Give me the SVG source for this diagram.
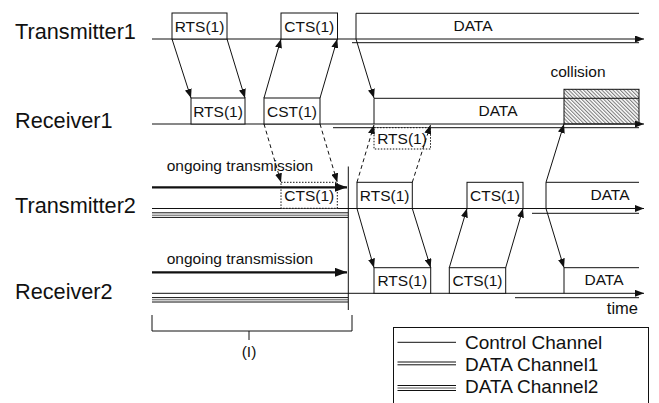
<svg xmlns="http://www.w3.org/2000/svg" width="659" height="403" viewBox="0 0 659 403">
<style>
.lbl{font-family:"Liberation Sans",Arial,sans-serif;font-size:21.7px;fill:#111}
.t{font-family:"Liberation Sans",Arial,sans-serif;font-size:15.5px;fill:#111;text-anchor:middle}
.lg{font-family:"Liberation Sans",Arial,sans-serif;font-size:19px;fill:#111}
.box{fill:#fff;stroke:#111;stroke-width:1}
.dot{fill:#fff;stroke:#111;stroke-width:1;stroke-dasharray:1.5,1.5}
.ln{stroke:#111;stroke-width:1;fill:none}
.gl{stroke:#555;stroke-width:1;fill:none}
.ar{stroke:#111;stroke-width:1;fill:none;marker-end:url(#ah)}
.da{stroke:#111;stroke-width:1;fill:none;stroke-dasharray:4,3;marker-end:url(#ah)}
.th{stroke:#111;stroke-width:2.2;fill:none;marker-end:url(#big)}
</style>
<defs>
<marker id="ah" markerUnits="userSpaceOnUse" markerWidth="9" markerHeight="7" refX="9" refY="3.5" orient="auto"><path d="M0,0 L9,3.5 L0,7 z" fill="#111"/></marker>
<marker id="big" markerUnits="userSpaceOnUse" markerWidth="12" markerHeight="9" refX="12" refY="4.5" orient="auto"><path d="M0,0 L12,4.5 L0,9 z" fill="#111"/></marker>
<pattern id="hatch" width="2.6" height="2.6" patternUnits="userSpaceOnUse" patternTransform="rotate(-45)"><line x1="0.6" y1="0" x2="0.6" y2="2.6" stroke="#333" stroke-width="0.7"/></pattern>
</defs>

<g id="labels">
<text class="lbl" x="15" y="39">Transmitter1</text>
<text class="lbl" x="15" y="128">Receiver1</text>
<text class="lbl" x="15" y="213">Transmitter2</text>
<text class="lbl" x="15" y="299">Receiver2</text>
</g>

<g id="timelines">
<line class="ln" x1="152" y1="39" x2="644" y2="39" marker-end="url(#ah)"/>
<line class="ln" x1="352" y1="42.7" x2="639" y2="42.7" stroke-width="1.3"/>
<line class="ln" x1="152" y1="124" x2="644" y2="124" marker-end="url(#ah)"/>
<line class="ln" x1="333" y1="127.7" x2="639" y2="127.7" stroke-width="1.3"/>
<line class="ln" x1="152" y1="208.5" x2="644" y2="208.5" marker-end="url(#ah)"/>
<line class="ln" x1="532" y1="213.3" x2="639" y2="213.3" stroke-width="1.6"/>
<line class="ln" x1="152" y1="212.8" x2="348" y2="212.8"/>
<line class="gl" x1="152" y1="215.2" x2="348" y2="215.2"/>
<line class="ln" x1="152" y1="217.4" x2="348" y2="217.4"/>
<line class="ln" x1="152" y1="293.3" x2="644" y2="293.3" marker-end="url(#ah)"/>
<line class="ln" x1="515" y1="297.7" x2="639" y2="297.7" stroke-width="1.3"/>
<line class="ln" x1="152" y1="297.6" x2="348" y2="297.6"/>
<line class="gl" x1="152" y1="299.8" x2="348" y2="299.8"/>
<line class="ln" x1="152" y1="302" x2="348" y2="302"/>
<line class="ln" x1="348.3" y1="166.5" x2="348.3" y2="310"/>
</g>

<g id="t1-rts"><rect class="box" x="172" y="13" width="55" height="26"/><text class="t" x="199.5" y="31.5">RTS(1)</text></g>
<g id="t1-cts"><rect class="box" x="281" y="13" width="56.5" height="26"/><text class="t" x="309.2" y="31.5">CTS(1)</text></g>
<g id="t1-data"><path class="ln" d="M356,39 V13.3 H639"/><text class="t" x="473" y="31">DATA</text></g>

<g id="r1-rts"><rect class="box" x="191" y="98" width="54" height="26"/><text class="t" x="218" y="116.5">RTS(1)</text></g>
<g id="r1-cst"><rect class="box" x="264" y="98" width="56" height="26"/><text class="t" x="292" y="116.5">CST(1)</text></g>
<g id="r1-data"><path class="ln" d="M374,124 V98.3 H564"/><text class="t" x="498" y="116">DATA</text></g>
<g id="r1-collision"><rect x="564" y="89.3" width="75" height="34.7" fill="url(#hatch)" stroke="#111" stroke-width="1"/><line class="ln" x1="564" y1="98.3" x2="639" y2="98.3"/><text class="t" x="578" y="77">collision</text></g>
<g id="r1-rts-dotted"><rect class="dot" x="374" y="127.7" width="56.5" height="21.3"/><text class="t" x="402" y="143.5">RTS(1)</text></g>

<g id="t2-ongoing"><text class="t" x="240" y="171">ongoing transmission</text></g>
<g id="t2-cts-dotted"><rect class="dot" x="281" y="182.3" width="56.3" height="26"/><text class="t" x="309.2" y="201">CTS(1)</text></g>
<g id="t2-rts"><rect class="box" x="357" y="182.3" width="55.3" height="26.2"/><text class="t" x="384.6" y="201">RTS(1)</text></g>
<g id="t2-cts"><rect class="box" x="467" y="182.3" width="56" height="26.2"/><text class="t" x="495" y="201">CTS(1)</text></g>
<g id="t2-data"><path class="ln" d="M546,208.5 V182.3 H639"/><text class="t" x="610" y="200">DATA</text></g>

<g id="r2-ongoing"><text class="t" x="240" y="264">ongoing transmission</text></g>
<g id="r2-rts"><rect class="box" x="374" y="267.7" width="56.7" height="25.6"/><text class="t" x="402.3" y="286">RTS(1)</text></g>
<g id="r2-cts"><rect class="box" x="449.3" y="267.7" width="56.4" height="25.6"/><text class="t" x="477.5" y="286">CTS(1)</text></g>
<g id="r2-data"><path class="ln" d="M564,293.3 V267.7 H639"/><text class="t" x="604" y="285">DATA</text></g>
<g id="time"><text class="t" x="638" y="314" style="text-anchor:end;font-size:16.5px">time</text></g>

<g id="connectors">
<line class="th" x1="152" y1="187.3" x2="347" y2="187.3"/>
<line class="th" x1="152" y1="272.3" x2="347" y2="272.3"/>
<line class="ar" x1="172" y1="39" x2="191" y2="98"/>
<line class="ar" x1="227" y1="39" x2="245" y2="98"/>
<line class="ar" x1="264" y1="98" x2="281" y2="39"/>
<line class="ar" x1="320" y1="98" x2="337.3" y2="39"/>
<line class="ar" x1="356" y1="39" x2="374" y2="98"/>
<line class="da" x1="264" y1="124" x2="281" y2="182.3"/>
<line class="da" x1="320" y1="124" x2="337.3" y2="182.3"/>
<line class="da" x1="357" y1="182.3" x2="374" y2="125"/>
<line class="da" x1="412.3" y1="182.3" x2="430.5" y2="125"/>
<line class="ar" x1="546" y1="182.3" x2="564" y2="124"/>
<line class="ar" x1="357" y1="208.5" x2="374" y2="267.7"/>
<line class="ar" x1="412.3" y1="208.5" x2="430.7" y2="267.7"/>
<line class="ar" x1="449.3" y1="267.7" x2="467" y2="208.5"/>
<line class="ar" x1="505.7" y1="267.7" x2="523" y2="208.5"/>
<line class="ar" x1="546" y1="208.5" x2="564" y2="267.7"/>
</g>

<g id="bracket">
<path class="ln" d="M152,315 V331 H352 V315 M249,331 V340"/>
<text class="t" x="249" y="357">(I)</text>
</g>

<g id="legend">
<rect x="393.5" y="327.5" width="255" height="100" fill="#fff" stroke="#111" stroke-width="1"/>
<line class="ln" x1="397.5" y1="342.3" x2="456" y2="342.3"/>
<text class="lg" x="465" y="348.5">Control Channel</text>
<line class="ln" x1="397.5" y1="362" x2="456" y2="362"/>
<line class="ln" x1="397.5" y1="364.8" x2="456" y2="364.8"/>
<text class="lg" x="465" y="370.5">DATA Channel1</text>
<line class="ln" x1="397.5" y1="385.5" x2="456" y2="385.5"/>
<line class="gl" x1="397.5" y1="388" x2="456" y2="388"/>
<line class="ln" x1="397.5" y1="390.5" x2="456" y2="390.5"/>
<text class="lg" x="465" y="393">DATA Channel2</text>
</g>
</svg>
